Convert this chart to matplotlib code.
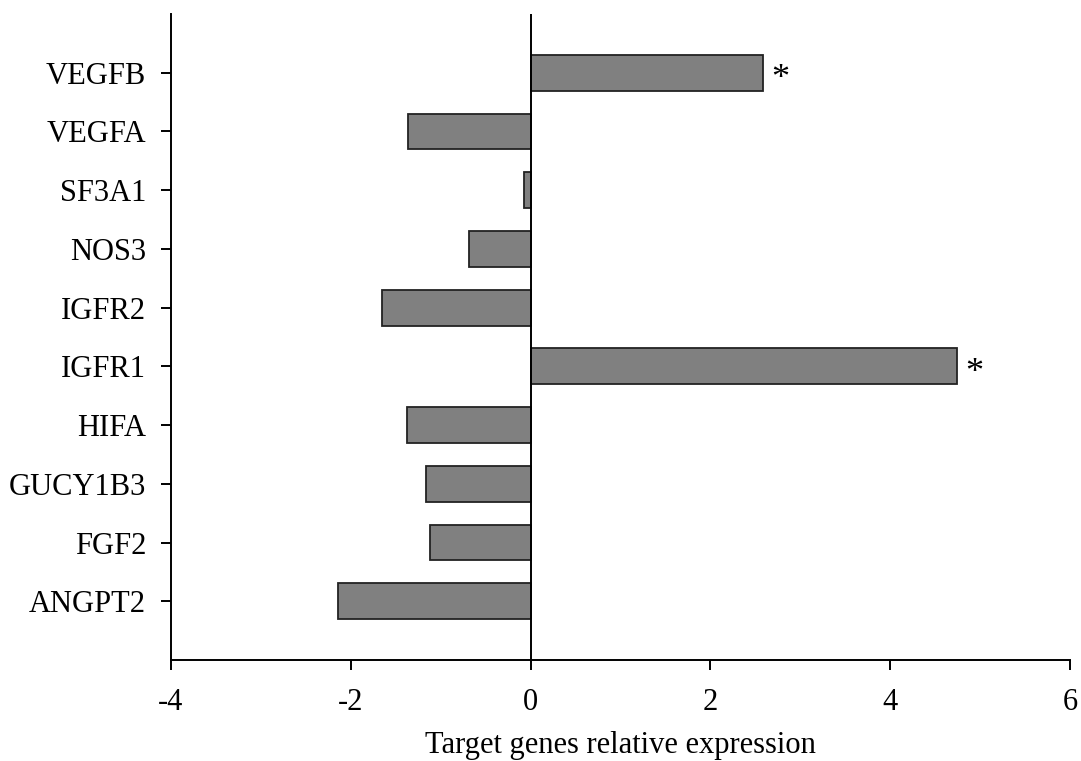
import matplotlib
matplotlib.use("Agg")
import matplotlib.pyplot as plt

# Gene expression data (bottom to top)
genes = ["ANGPT2", "FGF2", "GUCY1B3", "HIFA", "IGFR1",
         "IGFR2", "NOS3", "SF3A1", "VEGFA", "VEGFB"]
expression = [-2.14, -1.12, -1.16, -1.38, 4.74,
              -1.65, -0.69, -0.075, -1.36, 2.58]
significant = [False, False, False, False, True,
               False, False, False, False, True]

plt.rcParams["font.family"] = ["Liberation Serif", "DejaVu Serif"]
plt.rcParams["axes.unicode_minus"] = False

fig = plt.figure(figsize=(10.81, 7.61), dpi=100)
ax = fig.add_axes([0.1582, 0.1327, 0.8316, 0.8489])

ypos = list(range(len(genes)))
ax.barh(ypos, expression, height=0.61, color="#808080",
        edgecolor="#222222", linewidth=1.3, zorder=2)
ax.axvline(0, color="black", linewidth=1.4, zorder=3)

# Significance markers
for y, v, s in zip(ypos, expression, significant):
    if s:
        ax.annotate("*", xy=(v, y), xytext=(6, -5), textcoords="offset points",
                    ha="left", va="center", fontsize=26)

ax.set_xlim(-4, 6)
ax.set_ylim(-1, 10)
ax.set_xticks([-4, -2, 0, 2, 4, 6])
ax.set_yticks(ypos)
ax.set_yticklabels(genes)
ax.set_xlabel("Target genes relative expression", fontsize=22, labelpad=10)

ax.tick_params(axis="both", direction="out", length=7, width=1.4,
               labelsize=22)
ax.tick_params(axis="y", pad=11)
ax.tick_params(axis="x", pad=13)
ax.spines["top"].set_visible(False)
ax.spines["right"].set_visible(False)
ax.spines["left"].set_linewidth(1.4)
ax.spines["bottom"].set_linewidth(1.4)

fig.savefig("out.png", dpi=100)
